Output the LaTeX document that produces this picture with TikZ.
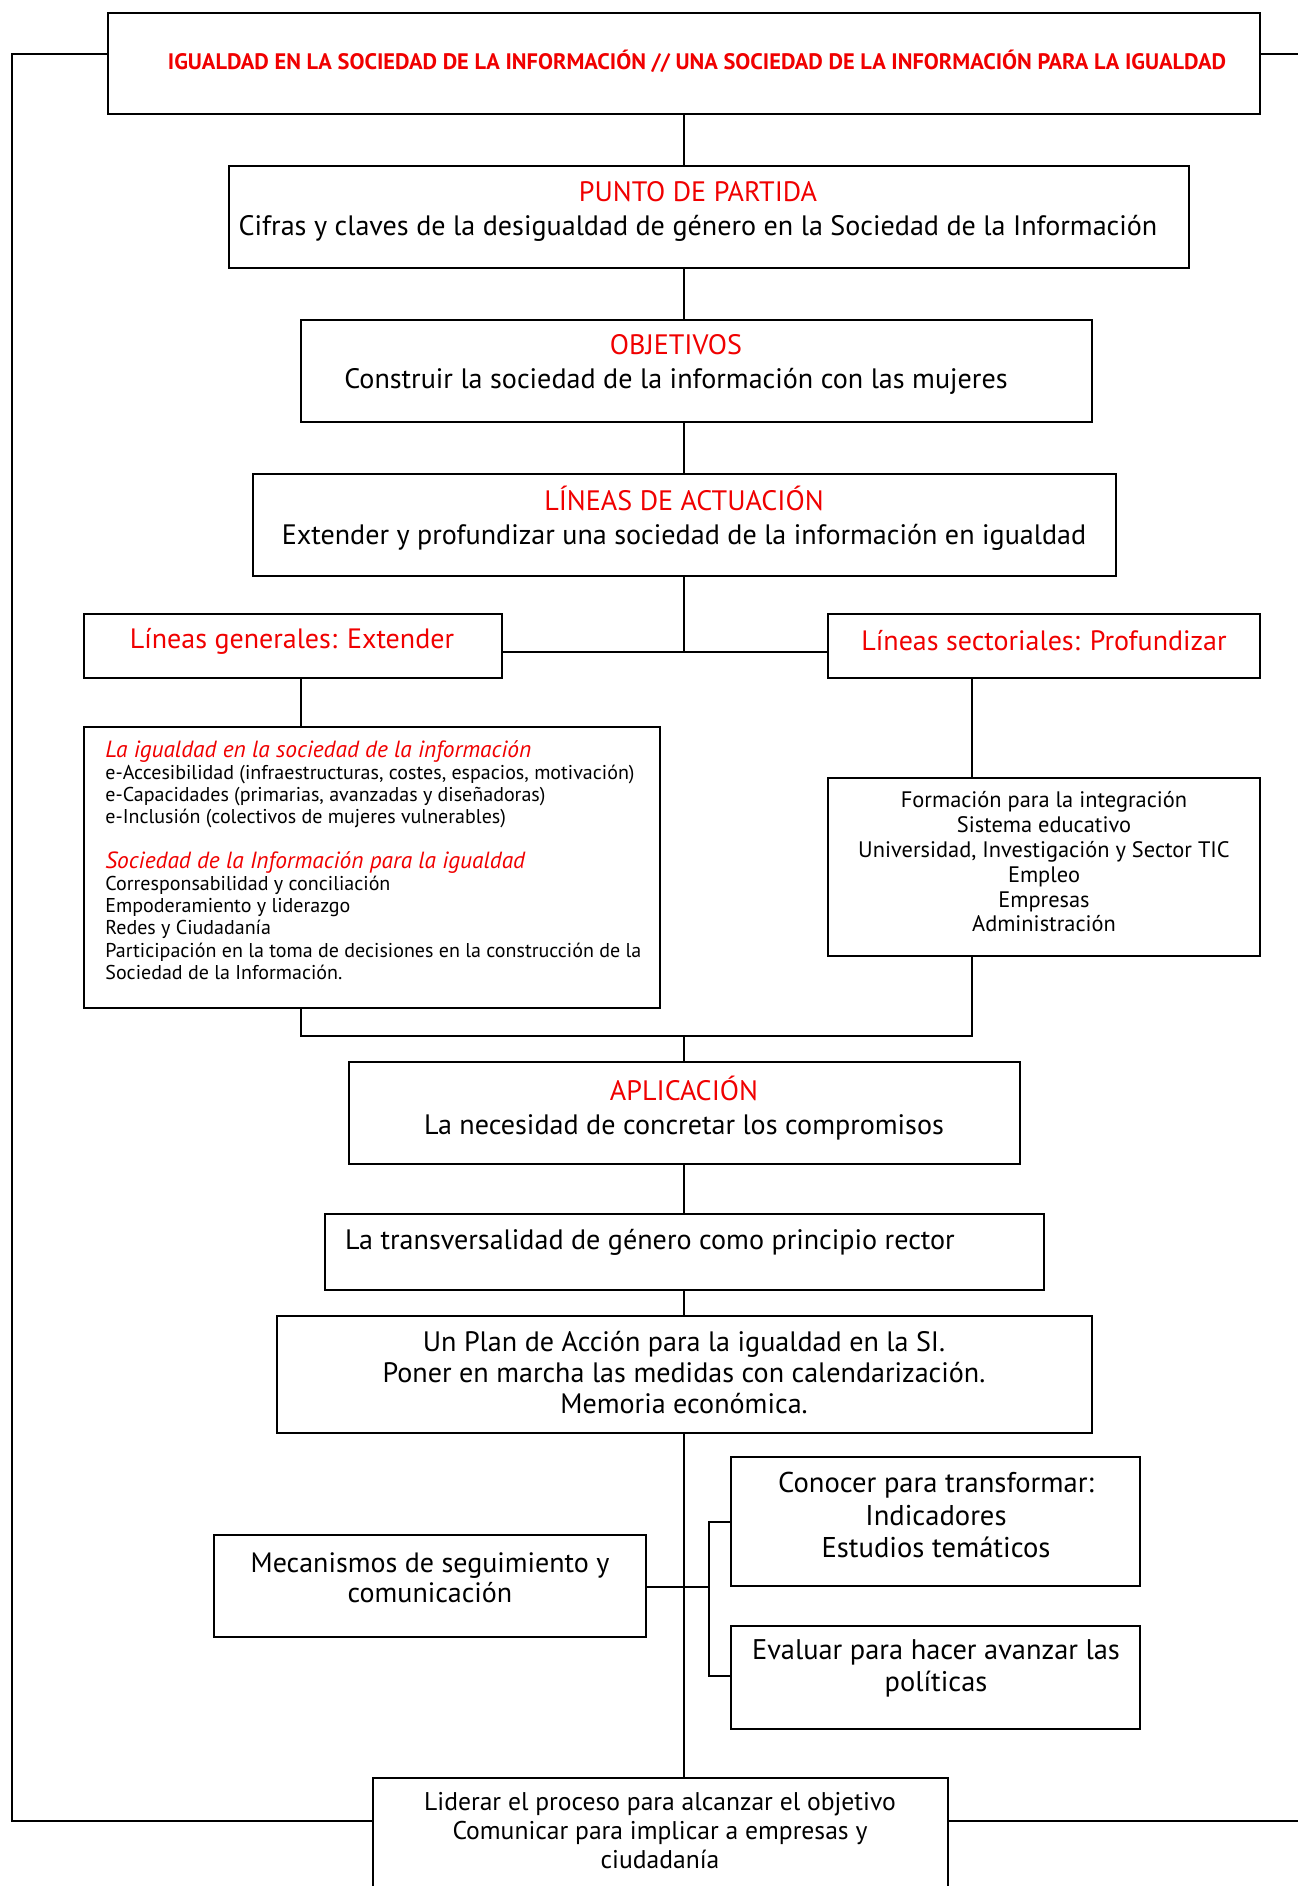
\documentclass[tikz,border=0pt]{standalone}
\usepackage{fontspec}
\setmainfont{PT Sans}
\usetikzlibrary{fit}
\definecolor{tred}{RGB}{240,0,0}
\tikzset{
  box/.style={draw=black, line width=1pt, inner sep=0pt},
  conn/.style={draw=black, line width=0.8pt},
  txt/.style={inner sep=0pt, align=center},
}
\newcommand{\fs}[2]{\fontsize{#1}{#2}\selectfont}
\newcommand{\redhead}[1]{\textcolor{tred}{\itshape\fontsize{11.7}{11.1}\selectfont #1}}
\begin{document}
\begin{tikzpicture}[x=0.5pt,y=-0.5pt]
\clip (0,0) rectangle (1298,1886);
\fill[white] (0,0) rectangle (1298,1886);
\coordinate (cx) at (684,0);
% boxes
\node[box, fit={(108,13) (1260,114)}] (top) {};
\node[box, fit={(229,166) (1189,268)}] (P) {};
\node[box, fit={(301,320) (1092,422)}] (O) {};
\node[box, fit={(253,474) (1116,576)}] (L) {};
\node[box, fit={(84,614) (502,678)}] (G) {};
\node[box, fit={(828,614) (1260,678)}] (S) {};
\node[box, fit={(84,727) (660,1008)}] (B) {};
\node[box, fit={(828,778) (1260,956)}] (R) {};
\node[box, fit={(349,1062) (1020,1164)}] (A) {};
\node[box, fit={(325,1214) (1044,1290)}] (T) {};
\node[box, fit={(277,1316) (1092,1433)}] (PL) {};
\node[box, fit={(214,1535) (646,1637)}] (M) {};
\node[box, fit={(731,1457) (1140,1586)}] (C) {};
\node[box, fit={(731,1626) (1140,1729)}] (E) {};
\node[box, fit={(373,1778) (948,1910)}] (LD) {};
% texts
\node[txt, text=tred, font=\bfseries\fs{11.2}{13}] (ttop) at (697,61) {IGUALDAD EN LA SOCIEDAD DE LA INFORMACIÓN // UNA SOCIEDAD DE LA INFORMACIÓN PARA LA IGUALDAD};
\node[txt, font=\fs{14.05}{17}] (tP) at (698,211) {\textcolor{tred}{PUNTO DE PARTIDA}\\Cifras y claves de la desigualdad de género en la Sociedad de la Información};
\node[txt, font=\fs{14.05}{17}] (tO) at (676,364) {\textcolor{tred}{OBJETIVOS}\\Construir la sociedad de la información con las mujeres};
\node[txt, font=\fs{14.05}{17}] (tL) at (684,518) {\textcolor{tred}{LÍNEAS DE ACTUACIÓN}\\Extender y profundizar una sociedad de la información en igualdad};
\node[txt, text=tred, font=\fs{14}{17}] (tG) at (292,641) {Líneas generales: Extender};
\node[txt, text=tred, font=\fs{14}{17}] (tS) at (1044,641) {Líneas sectoriales: Profundizar};
\node[txt, anchor=north west, align=left, font=\fs{10}{11.1}] (tB) at (105,740) {\redhead{La igualdad en la sociedad de la información}\\
e-Accesibilidad (infraestructuras, costes, espacios, motivación)\\
e-Capacidades (primarias, avanzadas y diseñadoras)\\
e-Inclusión (colectivos de mujeres vulnerables)\\[11.1pt]
\redhead{Sociedad de la Información para la igualdad}\\
Corresponsabilidad y conciliación\\
Empoderamiento y liderazgo\\
Redes y Ciudadanía\\
Participación en la toma de decisiones en la construcción de la\\
Sociedad de la Información.};
\node[txt, font=\fs{11.2}{12.4}] (tR) at (1044,862) {Formación para la integración\\Sistema educativo\\Universidad, Investigación y Sector TIC\\Empleo\\Empresas\\Administración};
\node[txt, font=\fs{14.05}{17}] (tA) at (684,1108) {\textcolor{tred}{APLICACIÓN}\\La necesidad de concretar los compromisos};
\node[txt, font=\fs{14.05}{17}] (tT) at (650,1242) {La transversalidad de género como principio rector};
\node[txt, font=\fs{14.05}{15.5}] (tPL) at (684,1373) {Un Plan de Acción para la igualdad en la SI.\\Poner en marcha las medidas con calendarización.\\Memoria económica.};
\node[txt, font=\fs{14}{15}] (tM) at (430,1578) {Mecanismos de seguimiento y\\comunicación};
\node[txt, font=\fs{14.3}{16.2}] (tC) at (936,1515) {Conocer para transformar:\\Indicadores\\Estudios temáticos};
\node[txt, font=\fs{14.2}{16}] (tE) at (936,1668) {Evaluar para hacer avanzar las\\políticas};
\node[txt, font=\fs{12.8}{14.5}] (tLD) at (660,1831) {Liderar el proceso para alcanzar el objetivo\\Comunicar para implicar a empresas y\\ciudadanía};
% connectors
\coordinate (jL) at (684,652);
\coordinate (jB) at (684,1036);
\coordinate (gx) at (301,0);
\coordinate (sx) at (972,0);
\draw[conn] (top.south -| cx) -- (P.north -| cx);
\draw[conn] (P.south -| cx) -- (O.north -| cx);
\draw[conn] (O.south -| cx) -- (L.north -| cx);
\draw[conn] (L.south -| cx) -- (jL);
\draw[conn] (G.east |- jL) -- (S.west |- jL);
\draw[conn] (G.south -| gx) -- (B.north -| gx);
\draw[conn] (S.south -| sx) -- (R.north -| sx);
\draw[conn] (B.south -| gx) |- (jB) -| (R.south -| sx);
\draw[conn] (jB) -- (A.north -| cx);
\draw[conn] (A.south -| cx) -- (T.north -| cx);
\draw[conn] (T.south -| cx) -- (PL.north -| cx);
\draw[conn] (PL.south -| cx) -- (LD.north -| cx);
\coordinate (br) at (709,1587);
\draw[conn] (M.east |- br) -- (br);
\draw[conn] (C.west |- 0,1522) -- (709,1522) -- (709,1676) -- (E.west |- 0,1676);
\coordinate (lt) at (12,54);
\coordinate (rt) at (1298,54);
\coordinate (lb) at (12,1821);
\coordinate (rb) at (1298,1821);
\draw[conn] (top.west |- lt) -- (lt) -- (lb) -- (LD.west |- lb);
\draw[conn] (top.east |- rt) -- (rt);
\draw[conn] (LD.east |- rb) -- (rb);
\end{tikzpicture}
\end{document}
